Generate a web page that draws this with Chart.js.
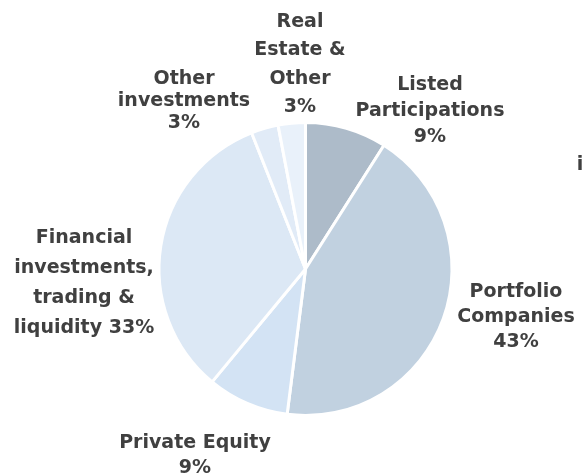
<!DOCTYPE html>
<html>
<head>
<meta charset="utf-8">
<script src="https://cdn.jsdelivr.net/npm/chart.js@4"></script>
<style>
  html, body { margin: 0; padding: 0; background: #fff; }
  #wrap { width: 583px; height: 473px; position: relative; }
</style>
</head>
<body>
<div id="wrap"><canvas id="myChart" width="583" height="473"></canvas></div>
<script>
// data
const categories = ['Listed Participations', 'Portfolio Companies', 'Private Equity',
    'Financial investments, trading & liquidity', 'Other investments', 'Real Estate & Other'];
const shares = [9, 43, 9, 33, 3, 3];
const sliceColors = ['#adbbc9', '#c1d1e0', '#d3e3f4', '#dce8f5', '#e1ebf7', '#e9f1fa'];

// label text lines + where they sit (center x, first line y, line height)
const labelLines = [
    ['Listed', 'Participations', shares[0] + '%'],
    ['Portfolio', 'Companies', shares[1] + '%'],
    ['Private Equity', shares[2] + '%'],
    ['Financial', 'investments,', 'trading &', 'liquidity ' + shares[3] + '%'],
    ['Other', 'investments', shares[4] + '%'],
    ['Real', 'Estate &', 'Other', shares[5] + '%']
];
const labelPos = [
    [430, 85, 26],
    [516, 292, 25],
    [195, 443, 25],
    [84, 238, 30],
    [184, 79, 22],
    [300, 22, 28.5]
];

const labelPlugin = {
    id: 'sliceLabels',
    afterDraw(chart) {
        const ctx = chart.ctx;
        ctx.save();
        ctx.fillStyle = '#404040';
        ctx.font = 'bold 19px "DejaVu Sans"';
        ctx.textAlign = 'center';
        ctx.textBaseline = 'middle';
        labelLines.forEach((lines, i) => {
            const [x, y, lh] = labelPos[i];
            lines.forEach((t, j) => ctx.fillText(t, x, y + j * lh));
        });
        // cut-off text at the right edge
        ctx.fillText('i', 580, 165);
        ctx.restore();
    }
};

window.onload = () => {
    const ctx = document.getElementById('myChart').getContext('2d');
    new Chart(ctx, {
        type: 'pie',
        data: {
            labels: categories,
            datasets: [{
                data: shares,
                backgroundColor: sliceColors,
                borderColor: '#ffffff',
                borderWidth: 3
            }]
        },
        options: {
            responsive: false,
            animation: false,
            layout: { padding: { left: 157, right: 129, top: 121, bottom: 56 } },
            plugins: {
                legend: { display: false },
                tooltip: { enabled: false }
            }
        },
        plugins: [labelPlugin]
    });
};
</script>
</body>
</html>
